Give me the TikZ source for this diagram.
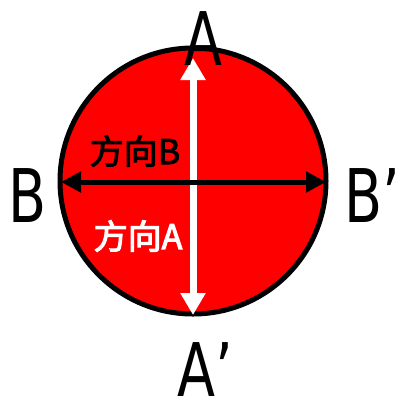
\documentclass[tikz,border=0pt]{standalone}
\usepackage{fontspec}
\usetikzlibrary{arrows.meta}
\setmainfont{DejaVu Sans}
\newfontfamily\cjk[FakeBold=3]{Noto Sans CJK SC}
\begin{document}
\begin{tikzpicture}[x=1pt,y=-1pt,
  lbl/.style={inner sep=0pt,font=\fontsize{74}{74}\selectfont,xscale=0.75},
  cjklbl/.style={inner sep=0pt,font=\cjk\fontsize{34}{34}\selectfont}]
\useasboundingbox (0,0) rectangle (401,400);
\node[circle,draw=black,fill=red,line width=5pt,minimum size=266pt,inner sep=0pt] (c) at (193,181) {};
\coordinate (at) at (193,58);
\coordinate (ab) at (193,315);
\coordinate (bl) at (61,182);
\coordinate (br) at (326,182);
\draw[white,line width=7pt,{Triangle[length=22pt,width=24pt]}-{Triangle[length=22pt,width=24pt]}] (at) -- (ab);
\draw[black,line width=5pt,{Triangle[length=20pt,width=20pt]}-{Triangle[length=20pt,width=20pt]}] (bl) -- (br);
\node[lbl] (A) at (203,39) {A};
\node[lbl,text depth=0pt,anchor=base] (A2) at (205,396) {A’};
\node[lbl] (B) at (28,196) {B};
\node[lbl] (B2) at (372,196) {B’};
\node[cjklbl,text=black] (dB) at (135,151) {方向B};
\node[cjklbl,text=white] (dA) at (138,236) {方向A};
\end{tikzpicture}
\end{document}
